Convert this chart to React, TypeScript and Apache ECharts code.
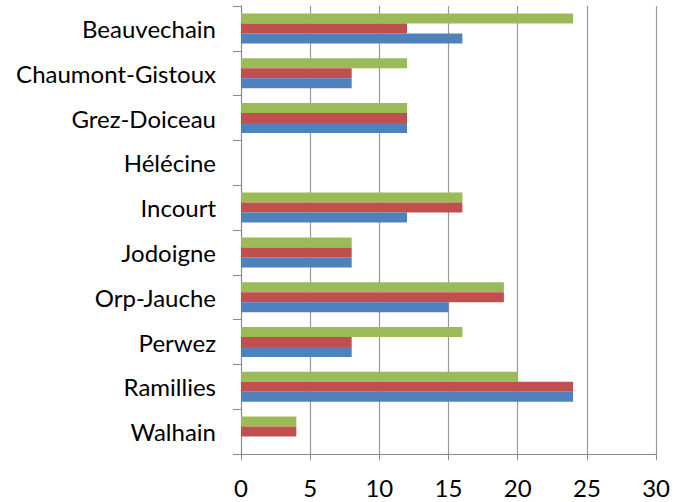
import React, { useEffect, useRef } from "react";
import * as echarts from "echarts";

const categories = ["Beauvechain", "Chaumont-Gistoux", "Grez-Doiceau", "Hélécine", "Incourt", "Jodoigne", "Orp-Jauche", "Perwez", "Ramillies", "Walhain"];
const blueValues = [16, 8, 12, 0, 12, 8, 15, 8, 24, 0];
const redValues = [12, 8, 12, 0, 16, 8, 19, 8, 24, 4];
const greenValues = [24, 12, 12, 0, 16, 8, 19, 16, 20, 4];

export default function App() {
  const ref = useRef<HTMLDivElement>(null);
  useEffect(() => {
    const chart = echarts.init(ref.current!, undefined, { renderer: "svg" });
    const font = "Lato";
    chart.setOption({
      animation: false,
      grid: { left: 241, right: 15, top: 6, bottom: 48, containLabel: false },
      xAxis: {
        type: "value",
        min: 0,
        max: 30,
        interval: 5,
        axisLine: { show: true, lineStyle: { color: "#888", width: 1 } },
        axisTick: { show: true, length: 6, lineStyle: { color: "#888" } },
        splitLine: { show: true, lineStyle: { color: "#999", width: 1.2 } },
        axisLabel: { color: "#000", fontSize: 24, fontFamily: font, margin: 21 },
      },
      yAxis: {
        type: "category",
        data: categories,
        inverse: true,
        axisLine: { show: true, lineStyle: { color: "#888", width: 1 } },
        axisTick: { show: true, length: 8, lineStyle: { color: "#888" } },
        axisLabel: { color: "#000", fontSize: 24, fontFamily: font, margin: 25 },
      },
      series: [
        { type: "bar", data: greenValues, itemStyle: { color: "#9BBB59" }, barGap: "0%", barCategoryGap: "33%" },
        { type: "bar", data: redValues, itemStyle: { color: "#C0504D" }, barGap: "0%", barCategoryGap: "33%" },
        { type: "bar", data: blueValues, itemStyle: { color: "#4F81BD" }, barGap: "0%", barCategoryGap: "33%" },
      ],
    });
    return () => chart.dispose();
  }, []);
  return <div ref={ref} style={{ width: 673, height: 502, position: "absolute", left: 0, top: 0 }} />;
}
